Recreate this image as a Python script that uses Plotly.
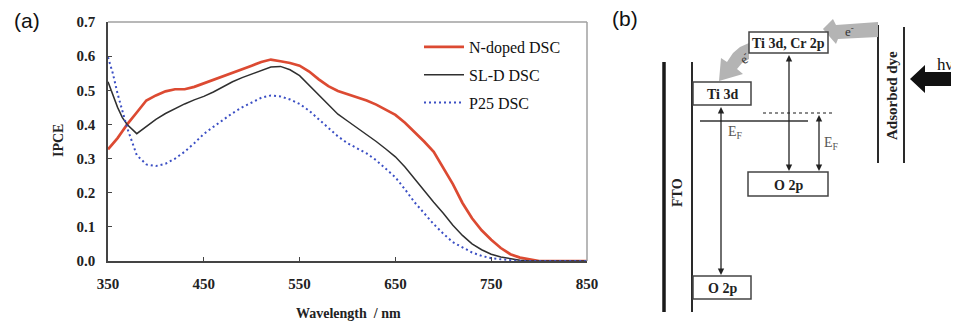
import plotly.graph_objects as go

# ---------------- data: panel (a) IPCE spectra ----------------
wavelength = [350, 355, 360, 365, 370, 380, 390, 400, 410, 420, 430, 440, 450,
              460, 470, 480, 490, 500, 510, 520, 530, 540, 550, 560, 570, 580,
              590, 600, 610, 620, 630, 640, 650, 660, 670, 680, 690, 700, 710,
              720, 730, 740, 750, 760, 770, 780, 790, 800, 850]

ipce_n_doped = [0.327, 0.343, 0.36, 0.38, 0.40, 0.435, 0.47, 0.485, 0.497, 0.503,
                0.503, 0.51, 0.52, 0.53, 0.54, 0.55, 0.562, 0.572, 0.583, 0.59,
                0.585, 0.58, 0.572, 0.555, 0.532, 0.512, 0.498, 0.489, 0.48, 0.47,
                0.458, 0.443, 0.428, 0.405, 0.378, 0.35, 0.32, 0.272, 0.225, 0.17,
                0.125, 0.09, 0.062, 0.038, 0.02, 0.01, 0.004, 0.0, 0.0]

ipce_sl_d = [0.525, 0.485, 0.45, 0.42, 0.40, 0.373, 0.395, 0.415, 0.432, 0.447,
             0.46, 0.472, 0.482, 0.495, 0.51, 0.525, 0.537, 0.548, 0.558, 0.568,
             0.57, 0.56, 0.543, 0.515, 0.485, 0.458, 0.43, 0.41, 0.39, 0.372,
             0.35, 0.328, 0.305, 0.275, 0.24, 0.205, 0.172, 0.14, 0.105, 0.075,
             0.05, 0.033, 0.02, 0.012, 0.006, 0.002, 0.0, 0.0, 0.0]

ipce_p25 = [0.597, 0.55, 0.49, 0.44, 0.39, 0.31, 0.283, 0.278, 0.285, 0.30,
            0.32, 0.345, 0.372, 0.393, 0.413, 0.433, 0.45, 0.465, 0.478, 0.485,
            0.482, 0.473, 0.46, 0.44, 0.415, 0.39, 0.365, 0.345, 0.33, 0.315,
            0.295, 0.27, 0.245, 0.21, 0.172, 0.14, 0.108, 0.08, 0.055, 0.04,
            0.025, 0.015, 0.008, 0.005, 0.002, 0.0, 0.0, 0.0, 0.0]

series_names = ["N-doped DSC", "SL-D DSC", "P25 DSC"]
x_ticks = [350, 450, 550, 650, 750, 850]
y_ticks = [0.0, 0.1, 0.2, 0.3, 0.4, 0.5, 0.6, 0.7]

# ---------------- panel (b) schematic (pixel coordinates) ----------------
box_labels = ["Ti 3d, Cr 2p", "Ti 3d", "O 2p", "O 2p"]
box_x0 = [749, 693, 748, 693]
box_x1 = [828, 751, 828, 751]
box_y0 = [32, 82, 172, 276]
box_y1 = [53, 105, 196, 299]

W, H = 959, 326
OFF = 8  # the page body adds an 8 px margin; compensate so the view matches
SERIF = "Liberation Serif, Times New Roman, serif"
SANS = "Liberation Sans, Arial, sans-serif"


def px(x):
    return (x - OFF) / W


def py(y):
    return 1 - (y - OFF) / H


fig = go.Figure()

styles = [
    dict(color="#dc4a32", width=2.7),
    dict(color="#2f2f2f", width=1.5),
    dict(color="#3b4fc4", width=2.0, dash="2px,3px"),
]
for name, vals, st in zip(series_names, [ipce_n_doped, ipce_sl_d, ipce_p25], styles):
    fig.add_trace(go.Scatter(x=wavelength, y=vals, mode="lines", name=name,
                             line=st, legendgroup=name, hoverinfo="skip"))

plot_l, plot_r, plot_t, plot_b = 108, 587, 22, 261
tickfont = dict(family=SERIF, size=15, weight="bold", color="#222")

fig.update_layout(
    width=W, height=H,
    margin=dict(l=0, r=0, t=0, b=0, pad=0, autoexpand=False),
    paper_bgcolor="white", plot_bgcolor="white",
    font=dict(family=SERIF, color="#111"),
    xaxis=dict(domain=[px(plot_l), px(plot_r)], range=[350, 850], tickvals=x_ticks,
               ticks="inside", ticklen=4, tickcolor="#444", tickwidth=1.2,
               showline=True, linecolor="#444", linewidth=1.5,
               showgrid=False, zeroline=False, tickfont=tickfont,
               ticklabelstandoff=8, automargin=False, fixedrange=True),
    yaxis=dict(domain=[py(plot_b), py(plot_t)], range=[0, 0.7],
               tickvals=y_ticks, tickformat=".1f",
               ticks="inside", ticklen=4, tickcolor="#444", tickwidth=1.2,
               showline=True, linecolor="#444", linewidth=1.5,
               showgrid=False, zeroline=False, tickfont=tickfont,
               ticklabelstandoff=8, automargin=False, fixedrange=True),
    legend=dict(x=px(419), y=py(30), xanchor="left", yanchor="top",
                bgcolor="rgba(0,0,0,0)", tracegroupgap=4, itemwidth=40,
                font=dict(family=SERIF, size=16, color="#111")),
    showlegend=True,
)

shapes = []
# light grey frame (top and right) for panel (a)
shapes.append(dict(type="line", xref="x domain", yref="y domain", x0=0, x1=1, y0=1, y1=1,
                   line=dict(color="#a0a0a0", width=1.5)))
shapes.append(dict(type="line", xref="x domain", yref="y domain", x0=1, x1=1, y0=0, y1=1,
                   line=dict(color="#a0a0a0", width=1.5)))


def pline(x0, y0, x1, y1, color="#2a2a2a", width=1.5, dash="solid"):
    shapes.append(dict(type="line", xref="paper", yref="paper",
                       x0=px(x0), y0=py(y0), x1=px(x1), y1=py(y1),
                       line=dict(color=color, width=width, dash=dash)))


def ppoly(points, color):
    d = "M " + " L ".join(f"{px(x):.5f},{py(y):.5f}" for x, y in points) + " Z"
    shapes.append(dict(type="path", xref="paper", yref="paper", path=d,
                       fillcolor=color, line=dict(width=0)))


def darrow(x, y0, y1, color="#222"):
    # vertical double-headed arrow from y0 (top) to y1 (bottom)
    pline(x, y0 + 4, x, y1 - 4, color=color, width=1.3)
    ppoly([(x, y0), (x - 3.2, y0 + 6.5), (x + 3.2, y0 + 6.5)], color)
    ppoly([(x, y1), (x - 3.2, y1 - 6.5), (x + 3.2, y1 - 6.5)], color)


# FTO and TiO2 vertical lines
pline(664, 62, 664, 312, width=3.5, color="#1a1a1a")
pline(692, 62, 692, 312, width=2, color="#2a2a2a")
# dye lines
pline(878, 25, 878, 163, width=2)
pline(904, 27, 904, 163, width=2)
# Fermi levels
pline(700, 121, 808, 121, width=1.6, color="#333")
pline(763, 113, 832, 113, width=1.4, color="#666", dash="dot")

# gray electron-transfer arrows
ppoly([(878, 22), (878, 37), (838, 39), (836, 44), (823, 29), (833, 19), (836, 25)], "#b4b4b4")
ppoly([(749, 43), (740, 47), (733, 53), (727, 62), (721, 58), (719, 81), (743, 74),
       (737, 69), (742, 63), (749, 59)], "#b4b4b4")
# hv arrow
ppoly([(910, 79), (925, 65), (925, 72), (959, 72), (959, 86), (925, 86), (925, 93)], "#111")

# boxes
for x0, x1, y0, y1 in zip(box_x0, box_x1, box_y0, box_y1):
    shapes.append(dict(type="rect", xref="paper", yref="paper",
                       x0=px(x0), x1=px(x1), y0=py(y0), y1=py(y1),
                       fillcolor="white", line=dict(color="#444", width=1.5)))

# double-headed energy arrows
darrow(721, 107, 275)
darrow(789, 55, 171)
darrow(819, 115, 171)

fig.update_layout(shapes=shapes)

ann = []


def text(x, y, s, size=14, bold=True, family=SERIF, color="#222", angle=0):
    ann.append(dict(x=px(x), y=py(y), xref="paper", yref="paper", text=s, showarrow=False,
                    textangle=angle, xanchor="center", yanchor="middle",
                    font=dict(family=family, size=size, color=color,
                              weight="bold" if bold else "normal")))


# panel labels and axis titles
text(27, 21, "(a)", size=21, bold=False, family=SANS, color="#111")
text(625, 18, "(b)", size=21, bold=False, family=SANS, color="#111")
text(58, 141, "IPCE", size=14, angle=-90)
text(348, 313, "Wavelength  / nm", size=14)

# box labels
for lbl, x0, x1, y0, y1 in zip(box_labels, box_x0, box_x1, box_y0, box_y1):
    text((x0 + x1) / 2, (y0 + y1) / 2 + 1, lbl, size=14)

text(677, 193, "FTO", size=14, angle=-90)
text(892, 96, "Adsorbed dye", size=15, angle=-90)
text(945, 64, "hν", size=17, bold=False, color="#111")
text(735, 132, "E<sub>F</sub>", size=14, bold=False, color="#555")
text(831, 143, "E<sub>F</sub>", size=14, bold=False, color="#555")
text(849, 31, "e<sup>-</sup>", size=13, bold=False, color="#333")
text(744, 58, "e<sup>-</sup>", size=13, bold=False, color="#333", angle=-40)

fig.update_layout(annotations=ann)

fig.write_html("out.html")
